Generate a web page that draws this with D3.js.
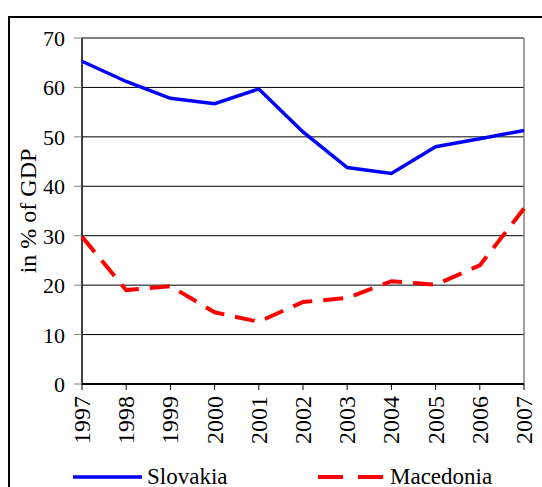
<!DOCTYPE html>
<html>
<head>
<meta charset="utf-8">
<script src="https://cdn.jsdelivr.net/npm/d3@7"></script>
</head>
<body>
<svg id="chart" width="542" height="487" style="position:absolute;left:0;top:0"></svg>
<script>
const years = [1997, 1998, 1999, 2000, 2001, 2002, 2003, 2004, 2005, 2006, 2007];
const slovakia = [65.3, 61.2, 57.8, 56.7, 59.7, 51.0, 43.8, 42.6, 48.0, 49.6, 51.3];
const macedonia = [29.8, 19.0, 19.8, 14.5, 12.6, 16.6, 17.4, 20.8, 20.1, 24.0, 35.5];
const yTicks = [0, 10, 20, 30, 40, 50, 60, 70];

const W = 542, H = 487;
const margin = {left: 82, right: 18, top: 38, bottom: 103};
const font = size => `font-family:'Liberation Serif';font-size:${size}px`;

const svg = d3.select("#chart");

// outer frame
svg.append("rect")
  .attr("x", 9).attr("y", 17)
  .attr("width", W).attr("height", H)
  .attr("fill", "none").attr("stroke", "#000").attr("stroke-width", 2);

const x = d3.scaleLinear().domain([1997, 2007]).range([margin.left, W - margin.right]);
const y = d3.scaleLinear().domain([0, 70]).range([H - margin.bottom, margin.top]);

// grid
svg.append("g").selectAll("line")
  .data(yTicks.filter(d => d > 0))
  .enter().append("line")
  .attr("x1", x(1997)).attr("x2", x(2007))
  .attr("y1", d => y(d)).attr("y2", d => y(d))
  .attr("stroke", "#000").attr("stroke-width", 1);

// right border (gray)
svg.append("line")
  .attr("x1", x(2007)).attr("x2", x(2007))
  .attr("y1", y(70)).attr("y2", y(0))
  .attr("stroke", "#808080").attr("stroke-width", 1.5);

// y axis
svg.append("line")
  .attr("x1", x(1997)).attr("x2", x(1997))
  .attr("y1", y(70)).attr("y2", y(0))
  .attr("stroke", "#000").attr("stroke-width", 1.5);
svg.append("g").selectAll("line")
  .data(yTicks).enter().append("line")
  .attr("x1", x(1997) - 8).attr("x2", x(1997))
  .attr("y1", d => y(d)).attr("y2", d => y(d))
  .attr("stroke", "#808080");
svg.append("g").selectAll("text")
  .data(yTicks).enter().append("text")
  .attr("style", font(22))
  .attr("x", x(1997) - 17).attr("y", d => y(d) + 8)
  .attr("text-anchor", "end")
  .text(d => d);

// x axis
svg.append("line")
  .attr("x1", x(1997)).attr("x2", x(2007))
  .attr("y1", y(0)).attr("y2", y(0))
  .attr("stroke", "#000").attr("stroke-width", 2);
svg.append("g").selectAll("line")
  .data(years).enter().append("line")
  .attr("x1", d => x(d)).attr("x2", d => x(d))
  .attr("y1", y(0)).attr("y2", y(0) + 6)
  .attr("stroke", "#000");
svg.append("g").selectAll("text")
  .data(years).enter().append("text")
  .attr("style", font(24))
  .attr("transform", d => `translate(${x(d) + 8},${y(0) + 12}) rotate(-90)`)
  .attr("text-anchor", "end")
  .text(d => d);

// y label
svg.append("text")
  .attr("transform", `translate(36,${(y(0) + y(70)) / 2}) rotate(-90)`)
  .attr("text-anchor", "middle")
  .attr("style", font(24))
  .text("in % of GDP");

const line = d3.line().x((d, i) => x(years[i])).y(d => y(d));

svg.append("path").datum(slovakia)
  .attr("d", line)
  .attr("fill", "none").attr("stroke", "#0000ff").attr("stroke-width", 3.5);

svg.append("path").datum(macedonia)
  .attr("d", line)
  .attr("fill", "none").attr("stroke", "#ff0000").attr("stroke-width", 4)
  .attr("stroke-dasharray", "20,11");

// legend
svg.append("line").attr("x1", 73).attr("x2", 142).attr("y1", 477).attr("y2", 477)
  .attr("stroke", "#0000ff").attr("stroke-width", 3.5);
svg.append("text").attr("x", 147).attr("y", 484)
  .attr("style", font(23)).text("Slovakia");
svg.append("line").attr("x1", 318).attr("x2", 383).attr("y1", 477).attr("y2", 477)
  .attr("stroke", "#ff0000").attr("stroke-width", 4).attr("stroke-dasharray", "25,15");
svg.append("text").attr("x", 390).attr("y", 484)
  .attr("style", font(23)).text("Macedonia");
</script>
</body>
</html>
